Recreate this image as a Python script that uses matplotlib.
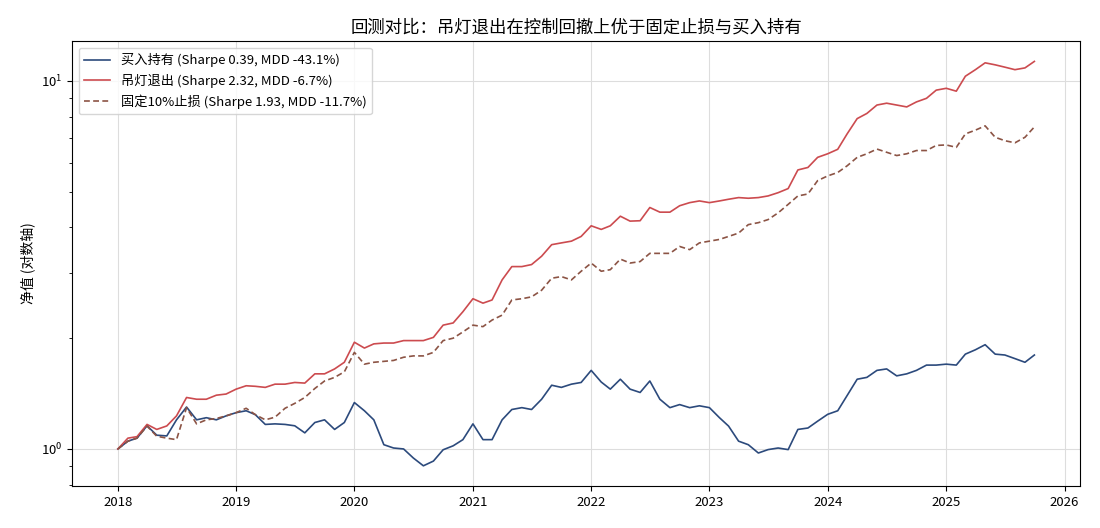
import numpy as np
import pandas as pd
import matplotlib
matplotlib.use("Agg")
import matplotlib.pyplot as plt

plt.rcParams['font.family'] = ['Noto Sans CJK SC', 'DejaVu Sans']
plt.rcParams['axes.unicode_minus'] = False

# monthly samples, 2018-01 .. 2025-09, plus last day
dates = list(pd.date_range('2018-01-01', periods=93, freq='MS')) + [pd.Timestamp('2025-09-30')]

buy_hold = [
    1.0, 1.05, 1.07, 1.156, 1.09, 1.085, 1.2, 1.3, 1.2, 1.216, 1.2, 1.23,
    1.255, 1.27, 1.24, 1.166, 1.17, 1.166, 1.156, 1.106, 1.18, 1.2, 1.13, 1.18,
    1.337, 1.27, 1.2, 1.027, 1.006, 1.0, 0.945, 0.9, 0.927, 0.995, 1.02, 1.06,
    1.17, 1.06, 1.06, 1.2, 1.28, 1.295, 1.28, 1.365, 1.49, 1.47, 1.5, 1.516,
    1.635, 1.52, 1.454, 1.547, 1.454, 1.424, 1.53, 1.365, 1.295, 1.32, 1.295, 1.31,
    1.295, 1.216, 1.154, 1.05, 1.027, 0.975, 0.996, 1.006, 0.996, 1.13, 1.14, 1.19,
    1.242, 1.27, 1.397, 1.547, 1.565, 1.635, 1.65, 1.58, 1.6, 1.635, 1.69, 1.69,
    1.7, 1.69, 1.81, 1.86, 1.92, 1.81, 1.8, 1.76, 1.72, 1.8,
]

chandelier = [
    1.0, 1.07, 1.08, 1.166, 1.13, 1.155, 1.23, 1.38, 1.365, 1.365, 1.40, 1.41,
    1.454, 1.485, 1.48, 1.47, 1.5, 1.5, 1.516, 1.51, 1.6, 1.6, 1.65, 1.72,
    1.95, 1.88, 1.93, 1.94, 1.94, 1.97, 1.97, 1.97, 2.01, 2.17, 2.2, 2.36,
    2.56, 2.49, 2.54, 2.88, 3.13, 3.13, 3.17, 3.34, 3.59, 3.63, 3.67, 3.78,
    4.04, 3.95, 4.04, 4.29, 4.16, 4.17, 4.53, 4.4, 4.4, 4.58, 4.67, 4.72,
    4.67, 4.72, 4.77, 4.82, 4.8, 4.82, 4.87, 4.97, 5.1, 5.73, 5.82, 6.2,
    6.34, 6.52, 7.18, 7.9, 8.16, 8.6, 8.7, 8.6, 8.5, 8.77, 8.97, 9.44,
    9.55, 9.38, 10.3, 10.73, 11.2, 11.06, 10.9, 10.73, 10.85, 11.3,
]

fixed_stop = [
    1.0, 1.05, 1.07, 1.154, 1.083, 1.07, 1.06, 1.295, 1.17, 1.2, 1.21, 1.23,
    1.255, 1.29, 1.24, 1.2, 1.22, 1.29, 1.33, 1.38, 1.46, 1.53, 1.565, 1.62,
    1.83, 1.7, 1.72, 1.73, 1.74, 1.775, 1.79, 1.79, 1.83, 1.97, 2.0, 2.08,
    2.17, 2.15, 2.24, 2.31, 2.54, 2.56, 2.59, 2.7, 2.91, 2.94, 2.88, 3.04,
    3.2, 3.04, 3.07, 3.28, 3.2, 3.23, 3.4, 3.4, 3.4, 3.55, 3.48, 3.63,
    3.67, 3.71, 3.78, 3.86, 4.07, 4.12, 4.2, 4.38, 4.62, 4.87, 4.93, 5.36,
    5.52, 5.64, 5.88, 6.2, 6.34, 6.53, 6.4, 6.27, 6.34, 6.47, 6.47, 6.68,
    6.7, 6.6, 7.18, 7.35, 7.55, 7.03, 6.88, 6.79, 7.03, 7.5,
]

labels = [
    '买入持有 (Sharpe 0.39, MDD -43.1%)',
    '吊灯退出 (Sharpe 2.32, MDD -6.7%)',
    '固定10%止损 (Sharpe 1.93, MDD -11.7%)',
]

fig = plt.figure(figsize=(11, 5.28), dpi=100)
ax = fig.add_axes([0.0655, 0.0795, 0.9165, 0.8425])

ax.plot(dates, buy_hold, color='#2c4a7c', lw=1.2, label=labels[0])
ax.plot(dates, chandelier, color='#cc4b4f', lw=1.2, label=labels[1])
ax.plot(dates, fixed_stop, color='#8c5445', lw=1.2, ls=(0, (3.5, 2)), label=labels[2])

ax.set_yscale('log')
ax.set_title('回测对比：吊灯退出在控制回撤上优于固定止损与买入持有', fontsize=12.5)
ax.set_ylabel('净值 (对数轴)', fontsize=10)
ax.grid(True, which='major', color='#dddddd', lw=0.8)
ax.set_axisbelow(True)
ax.tick_params(labelsize=9.5)
ax.legend(loc='upper left', fontsize=9.5, frameon=True, edgecolor='#cccccc')

fig.savefig('out.png', dpi=100)
